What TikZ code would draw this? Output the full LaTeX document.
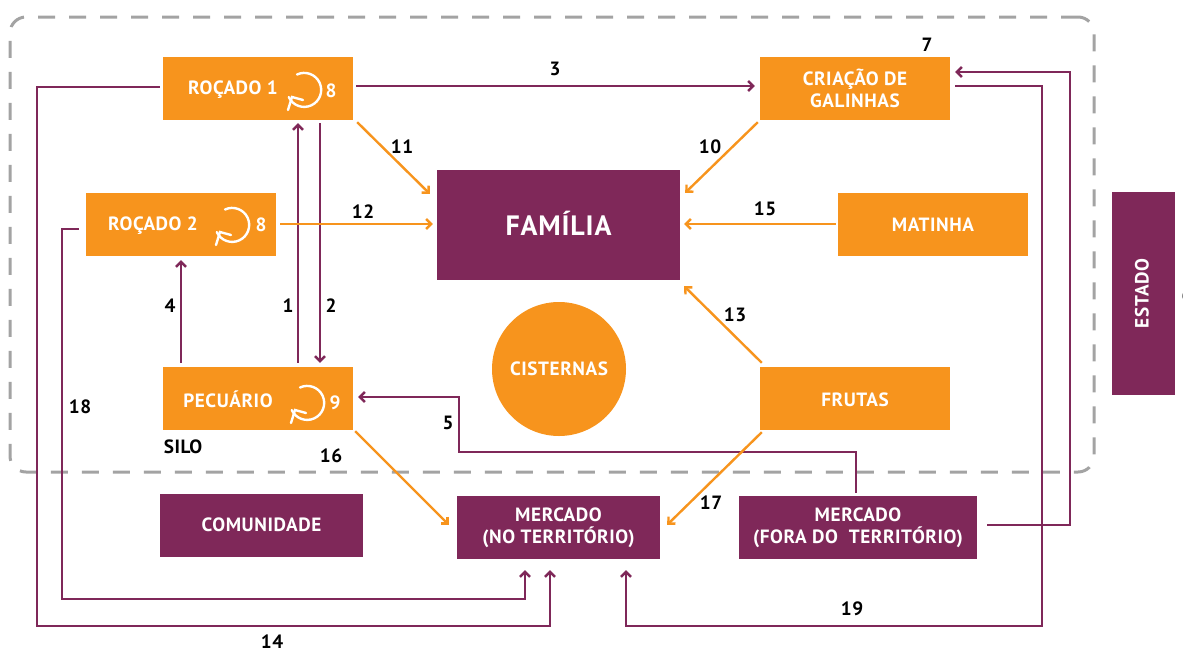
\documentclass[tikz,border=0pt]{standalone}
\usepackage{fontspec}
\usepackage{tikz}
\usepackage{xcolor}
\setmainfont{PT Sans}[LetterSpace=3]
\usetikzlibrary{arrows.meta}
\definecolor{laranja}{HTML}{F7941D}
\definecolor{roxo}{HTML}{7F2859}
\definecolor{cinza}{HTML}{A3A3A3}
\tikzset{
    caixa/.style={draw=none, fill=#1, text=white, inner sep=0pt, align=center, font=\bfseries\fontsize{19.2}{22.5}\selectfont},
    linha/.style={text height=13pt, text depth=0pt},
    numero/.style={text=black, inner sep=0pt, linha, font=\bfseries\fontsize{19.2}{20}\selectfont},
    rotulo/.style={text=white, inner sep=0pt, linha, font=\bfseries\fontsize{19.2}{20}\selectfont},
    fluxoroxo/.style={draw=roxo, line width=2.6pt, -{Straight Barb[length=5pt,width=10pt,line width=2.4pt]}},
    fluxolaranja/.style={draw=laranja, line width=2.4pt, -{Straight Barb[length=5pt,width=10pt,line width=2.4pt]}},
    ciclo/.pic={
        \draw[white, line width=2.4pt, line cap=round] (-8,-15.5) arc[start angle=115, end angle=-155, radius=17pt];
        \draw[white, line width=2.4pt, line cap=round] (-17,20) -- (-13,7) -- (-2,10);
    }
}
\begin{document}
\begin{tikzpicture}[x=1pt, y=-1pt]
    \useasboundingbox (0,0) rectangle (1183,648);
    \node[draw=cinza, line width=3pt, dash pattern=on 17pt off 14pt, rounded corners=16pt, minimum width=1084pt, minimum height=455pt, inner sep=0pt] (limite) at (552,244.5) {};

    \node[caixa=laranja, minimum width=190pt, minimum height=63pt] (rocado1) at (258,88.5) {};
    \node[caixa=laranja, minimum width=190pt, minimum height=63pt] (rocado2) at (181,224.5) {};
    \node[caixa=laranja, minimum width=190pt, minimum height=63pt] (pecuario) at (258,398.5) {};
    \node[caixa=laranja, minimum width=190pt, minimum height=63pt] (galinhas) at (855,88.5) {CRIAÇÃO DE\\GALINHAS};
    \node[caixa=laranja, linha, minimum width=190pt, minimum height=63pt] (matinha) at (933,224.5) {MATINHA};
    \node[caixa=laranja, text height=16pt, text depth=0pt, minimum width=190pt, minimum height=63pt] (frutas) at (855,398.5) {FRUTAS};
    \node[caixa=roxo, text height=20pt, text depth=0pt, minimum width=243pt, minimum height=110pt, font=\bfseries\fontsize{28}{32}\selectfont] (familia) at (558.5,225) {FAMÍLIA};
    \node[caixa=laranja, linha, circle, minimum size=134pt] (cisternas) at (559,369) {CISTERNAS};
    \node[caixa=roxo, text height=11pt, text depth=0pt, minimum width=203pt, minimum height=63pt] (comunidade) at (261.5,525.5) {COMUNIDADE};
    \node[caixa=roxo, minimum width=203pt, minimum height=63pt] (mercadono) at (558.5,527.5) {MERCADO\\(NO TERRITÓRIO)};
    \node[caixa=roxo, minimum width=238pt, minimum height=63pt] (mercadofora) at (858,527.5) {MERCADO\\(FORA DO\ \ TERRITÓRIO)};
    \node[caixa=roxo, minimum width=63pt, minimum height=203pt] (estado) at (1143.5,293.5) {};
    \node[rotulo, rotate=90] (estadotxt) at (1142,293.5) {ESTADO};

    \node[rotulo] (rocado1txt) at (233,88) {ROÇADO 1};
    \node[rotulo] (rocado2txt) at (153,224) {ROÇADO 2};
    \node[rotulo] (pecuariotxt) at (228,401) {PECUÁRIO};

    \pic at (305,90) {ciclo};
    \pic at (233,225) {ciclo};
    \pic at (308,403) {ciclo};
    \node[rotulo] (n8a) at (331,91) {8};
    \node[rotulo] (n8b) at (261,225) {8};
    \node[rotulo] (n9) at (335,403) {9};

    \draw[fluxoroxo] ([xshift=3pt,yshift=2.5pt]rocado1.east) -- ([xshift=-5pt,yshift=2.5pt]galinhas.west);
    \draw[fluxoroxo] ([xshift=-3pt,yshift=1.5pt]rocado1.west) -- (37,87) -- (37,626) -- (550,626) -- ([xshift=-8.5pt,yshift=-11pt]mercadono.south);
    \draw[fluxoroxo] ([xshift=-7pt,yshift=-4.5pt]rocado2.west) -- (62,229) -- (62,599) -- (525,599) -- ([xshift=-33.5pt,yshift=-11pt]mercadono.south);
    \draw[fluxoroxo] ([xshift=40pt,yshift=4pt]pecuario.north) -- ([xshift=40pt,yshift=-3pt]rocado1.south);
    \draw[fluxoroxo] ([xshift=62pt,yshift=-3pt]rocado1.south) -- ([xshift=62pt,yshift=4pt]pecuario.north);
    \draw[fluxoroxo] ([xshift=-77pt,yshift=4pt]pecuario.north) -- ([yshift=-4pt]rocado2.south);
    \draw[fluxoroxo] ([xshift=-2pt,yshift=3pt]mercadofora.north) -- (856,452) -- (459,452) -- (459,397) -- ([xshift=5pt,yshift=1.5pt]pecuario.east);
    \draw[fluxoroxo] ([xshift=10pt,yshift=2.5pt]mercadofora.east) -- (1070,525) -- (1070,72) -- ([xshift=5pt,yshift=16.5pt]galinhas.east);
    \draw[fluxoroxo] ([xshift=5pt,yshift=2.5pt]galinhas.east) -- (1042,86) -- (1042,626) -- (626,626) -- ([xshift=67.5pt,yshift=-11pt]mercadono.south);

    \draw[fluxolaranja] ([xshift=4pt,yshift=-2pt]rocado1.south east) -- ([xshift=-7pt,yshift=-24pt]familia.north west);
    \draw[fluxolaranja] ([xshift=4pt,yshift=0.5pt]rocado2.east) -- ([xshift=-4pt,yshift=1pt]familia.west);
    \draw[fluxolaranja] ([xshift=-2pt,yshift=-2pt]galinhas.south west) -- ([xshift=5pt,yshift=-23pt]familia.north east);
    \draw[fluxolaranja] ([xshift=-2pt,yshift=0.5pt]matinha.west) -- ([xshift=4pt,yshift=1pt]familia.east);
    \draw[fluxolaranja] ([xshift=2pt,yshift=4pt]frutas.north west) -- ([xshift=4pt,yshift=-6pt]familia.south east);
    \draw[fluxolaranja] ([xshift=2pt,yshift=-1pt]pecuario.south east) -- ([xshift=-8pt,yshift=-29pt]mercadono.north west);
    \draw[fluxolaranja] ([xshift=2pt,yshift=-2pt]frutas.south west) -- ([xshift=7pt,yshift=-29pt]mercadono.north east);

    \node[numero] (n3) at (555,69) {3};
    \node[numero] (n7) at (927,45) {7};
    \node[numero] (n11) at (402,147) {11};
    \node[numero] (n10) at (710,147) {10};
    \node[numero] (n12) at (363,212) {12};
    \node[numero] (n15) at (765,209) {15};
    \node[numero] (n4) at (170,306) {4};
    \node[numero] (n1) at (288,306) {1};
    \node[numero] (n2) at (331,306) {2};
    \node[numero] (n13) at (735,315) {13};
    \node[numero] (n5) at (448,423) {5};
    \node[numero] (n18) at (80,407) {18};
    \node[numero] (n16) at (331,456) {16};
    \node[numero] (silo) at (183,447) {SILO};
    \node[numero] (n17) at (711,503) {17};
    \node[numero] (n19) at (852,609) {19};
    \node[numero] (n14) at (272,642) {14};
    \node[numero] (n6) at (1187,295) {6};
\end{tikzpicture}
\end{document}
